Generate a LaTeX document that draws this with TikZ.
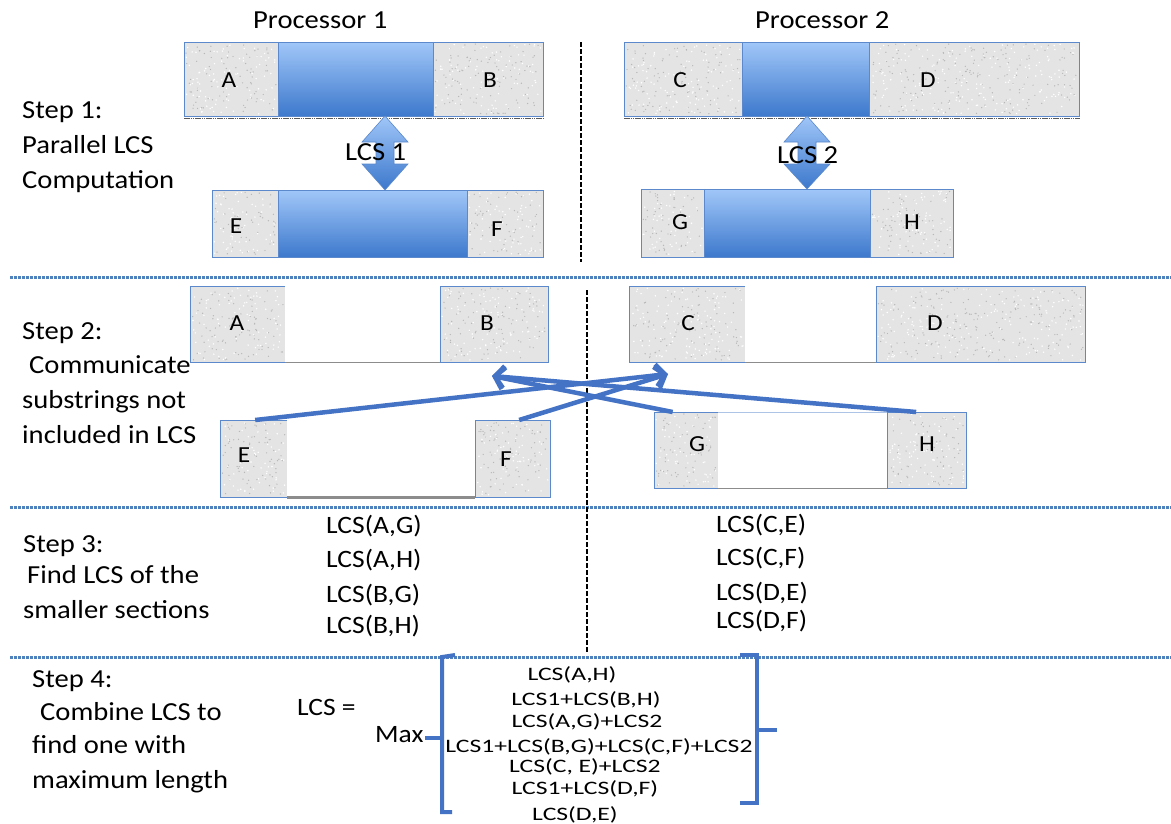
\documentclass[tikz,border=0pt]{standalone}
\usepackage{fontspec}
\setmainfont{Carlito}[FakeStretch=1.1]
\newfontfamily\formfont{Carlito}[FakeStretch=1.35]
\usetikzlibrary{arrows.meta}
\definecolor{boxblue}{RGB}{91,137,204}
\definecolor{arrblue}{RGB}{68,114,196}
\definecolor{sepblue}{RGB}{79,129,189}
\definecolor{segtop}{RGB}{160,198,248}
\definecolor{segbot}{RGB}{60,120,204}
\definecolor{granite}{RGB}{228,228,228}
\newcommand\myspeckle[5]{%
  \foreach \k in {1,...,#5}{%
    \pgfmathsetmacro\sx{#1+2+rnd*(#3-4)}%
    \pgfmathsetmacro\sy{#2+2+rnd*(#4-4)}%
    \pgfmathsetmacro\sc{rnd>0.5 ? 1 : 0}%
    \ifdim\sc pt>0.5pt
      \fill[black!28] (\sx,\sy) circle (0.7pt);
    \else
      \fill[white] (\sx,\sy) circle (0.8pt);
    \fi}}
\begin{document}
\begin{tikzpicture}[x=1pt,y=-1pt,
  greyseg/.style={draw=boxblue,line width=1.3pt,fill=granite,inner sep=0pt,anchor=north west},
  blueseg/.style={draw=boxblue,line width=1.3pt,top color=segtop,bottom color=segbot,inner sep=0pt,anchor=north west},
  whiteseg/.style={fill=white,inner sep=0pt,anchor=north west},
  letter/.style={inner sep=0pt,font=\fontsize{23}{27}\selectfont},
  steptxt/.style={inner sep=0pt,anchor=base west,font=\fontsize{26}{30}\selectfont},
  lcstxt/.style={inner sep=0pt,anchor=base west,font=\fontsize{25}{29}\selectfont},
  formtxt/.style={inner sep=0pt,anchor=base,font=\formfont\fontsize{19}{22}\selectfont},
  sepline/.style={draw=sepblue,line width=3pt,dash pattern=on 2.5pt off 1.5pt},
  vdash/.style={draw=black,line width=2.2pt,dash pattern=on 5pt off 2pt},
  conn/.style={draw=arrblue,line width=4.5pt,-{Straight Barb[length=9pt,width=22pt]}},
  dblarrow/.style={top color=segtop,bottom color=segbot,draw=boxblue,line width=0.6pt},
  brk/.style={draw=arrblue,line width=4pt},
  shadowline/.style={draw=black!65,line width=1.2pt,dash pattern=on 1.5pt off 0.7pt},
  whitebottom/.style={draw=black!45,line width=1.2pt}
]
\useasboundingbox[fill=white] (0,0) rectangle (1171,823);
\pgfmathsetseed{7}

% ---------------- headers
\node[steptxt] (p1) at (253,28) {Processor 1};
\node[steptxt] (p2) at (755,28) {Processor 2};

% ---------------- separators and divider
\draw[sepline] (10,277) -- (1171,277);
\draw[sepline] (10,507) -- (1171,507);
\draw[sepline] (10,657) -- (1171,657);
\draw[vdash] (581,42) -- (581,262);
\draw[vdash] (587,290) -- (587,652);

% ---------------- step 1 boxes
\node[greyseg,minimum width=94pt,minimum height=74pt] (A1) at (184,42) {};
\node[blueseg,minimum width=155pt,minimum height=74pt] (M1) at (278,42) {};
\node[greyseg,minimum width=110pt,minimum height=74pt] (B1) at (433,42) {};
\draw[shadowline] ([yshift=-1.5pt]A1.south west) -- ([yshift=-1.5pt]B1.south east);

\node[greyseg,minimum width=118pt,minimum height=74pt] (C1) at (624,42) {};
\node[blueseg,minimum width=127pt,minimum height=74pt] (M2) at (742,42) {};
\node[greyseg,minimum width=210pt,minimum height=74pt] (D1) at (869,42) {};
\draw[shadowline] ([yshift=-1.5pt]C1.south west) -- ([yshift=-1.5pt]D1.south east);

\node[greyseg,minimum width=66pt,minimum height=67pt] (E1) at (212,190) {};
\node[blueseg,minimum width=189pt,minimum height=67pt] (M3) at (278,190) {};
\node[greyseg,minimum width=76pt,minimum height=67pt] (F1) at (467,190) {};

\node[greyseg,minimum width=63pt,minimum height=68pt] (G1) at (641,189) {};
\node[blueseg,minimum width=166pt,minimum height=68pt] (M4) at (704,189) {};
\node[greyseg,minimum width=83pt,minimum height=68pt] (H1) at (870,189) {};

% ---------------- step 2 boxes
\node[greyseg,minimum width=95pt,minimum height=76pt] (A2) at (190,286) {};
\node[whiteseg,minimum width=155pt,minimum height=76pt] (W1) at (285,286) {};
\node[greyseg,minimum width=108pt,minimum height=76pt] (B2) at (440,286) {};
\draw[whitebottom] (W1.south west) -- (W1.south east);

\node[greyseg,minimum width=116pt,minimum height=76pt] (C2) at (629,286) {};
\node[whiteseg,minimum width=131pt,minimum height=76pt] (W2) at (745,286) {};
\node[greyseg,minimum width=209pt,minimum height=76pt] (D2) at (876,286) {};
\draw[whitebottom] (W2.south west) -- (W2.south east);

\node[greyseg,minimum width=67pt,minimum height=77pt] (E2) at (220,420) {};
\node[whiteseg,minimum width=188pt,minimum height=77pt] (W3) at (287,420) {};
\node[greyseg,minimum width=75pt,minimum height=77pt] (F2) at (475,420) {};
\draw[whitebottom,line width=3pt] (W3.south west) -- (W3.south east);

\node[greyseg,minimum width=64pt,minimum height=76pt] (G2) at (654,412) {};
\node[whiteseg,minimum width=169pt,minimum height=76pt] (W4) at (718,412) {};
\node[greyseg,minimum width=79pt,minimum height=76pt] (H2) at (887,412) {};
\draw[whitebottom] (W4.south west) -- (W4.south east);
\draw[draw=boxblue!50,line width=0.8pt] (W4.north west) -- (W4.north east);

% granite speckle
\myspeckle{184}{42}{94}{74}{170}
\myspeckle{433}{42}{110}{74}{200}
\myspeckle{624}{42}{118}{74}{215}
\myspeckle{869}{42}{210}{74}{380}
\myspeckle{212}{190}{66}{67}{110}
\myspeckle{467}{190}{76}{67}{125}
\myspeckle{641}{189}{63}{68}{105}
\myspeckle{870}{189}{83}{68}{140}
\myspeckle{190}{286}{95}{76}{180}
\myspeckle{440}{286}{108}{76}{200}
\myspeckle{629}{286}{116}{76}{215}
\myspeckle{876}{286}{209}{76}{390}
\myspeckle{220}{420}{67}{77}{130}
\myspeckle{475}{420}{75}{77}{145}
\myspeckle{654}{412}{64}{76}{120}
\myspeckle{887}{412}{79}{76}{150}

\node[letter] (tA1) at (229,80) {A};
\node[letter] (tB1) at (490,80) {B};
\node[letter] (tC1) at (680,80) {C};
\node[letter] (tD1) at (928,80) {D};
\node[letter] (tE1) at (236,226) {E};
\node[letter] (tF1) at (497,229) {F};
\node[letter] (tG1) at (680,222) {G};
\node[letter] (tH1) at (912,222) {H};

% double arrows
\shade[dblarrow] (385,116) -- (408,142) -- (394,142) -- (394,164) -- (408,164) -- (385,190)
  -- (362,164) -- (376,164) -- (376,142) -- (362,142) -- cycle;
\shade[dblarrow] (807,116) -- (830,142) -- (816,142) -- (816,164) -- (830,164) -- (807,189)
  -- (784,164) -- (798,164) -- (798,142) -- (784,142) -- cycle;
\node[steptxt] (l1) at (345,160) {LCS 1};
\node[steptxt] (l2) at (777,163) {LCS 2};

\node[letter] (tA2) at (237,323) {A};
\node[letter] (tB2) at (487,323) {B};
\node[letter] (tC2) at (688,323) {C};
\node[letter] (tD2) at (935,323) {D};
\node[letter] (tE2) at (244,455) {E};
\node[letter] (tF2) at (506,459) {F};
\node[letter] (tG2) at (697,444) {G};
\node[letter] (tH2) at (927,444) {H};

% communication arrows
\coordinate (hCD) at (668,374);
\coordinate (hAB) at (492,376);
\draw[conn] ([xshift=1pt]E2.north) -- (hCD);
\draw[conn] ([xshift=6pt]F2.north) -- (hCD);
\draw[conn] ([xshift=-14pt]G2.north) -- (hAB);
\draw[conn] ([xshift=-11pt]H2.north) -- (hAB);

% ---------------- step labels
\node[steptxt] (s1a) at (22,118) {Step 1:};
\node[steptxt] (s1b) at (22,153) {Parallel LCS};
\node[steptxt] (s1c) at (22,188) {Computation};

\node[steptxt] (s2a) at (22,339) {Step 2:};
\node[steptxt] (s2b) at (29,373) {Communicate};
\node[steptxt] (s2c) at (22,408) {substrings not};
\node[steptxt] (s2d) at (22,443) {included in LCS};

\node[steptxt] (s3a) at (23,552) {Step 3:};
\node[steptxt] (s3b) at (27,583) {Find LCS of the};
\node[steptxt] (s3c) at (23,618) {smaller sections};

\node[steptxt] (s4a) at (32,687) {Step 4:};
\node[steptxt] (s4b) at (40,720) {Combine LCS to};
\node[steptxt] (s4c) at (32,753) {find one with};
\node[steptxt] (s4d) at (32,788) {maximum length};

% ---------------- step 3 texts
\node[lcstxt] (q1) at (326,533) {LCS(A,G)};
\node[lcstxt] (q2) at (326,567) {LCS(A,H)};
\node[lcstxt] (q3) at (326,602) {LCS(B,G)};
\node[lcstxt] (q4) at (326,633) {LCS(B,H)};
\node[lcstxt] (q5) at (716,532) {LCS(C,E)};
\node[lcstxt] (q6) at (716,565) {LCS(C,F)};
\node[lcstxt] (q7) at (716,600) {LCS(D,E)};
\node[lcstxt] (q8) at (716,628) {LCS(D,F)};

% ---------------- step 4 formula
\node[lcstxt] (lhs) at (297,715) {LCS =};
\node[lcstxt] (max) at (375,742) {Max};
\draw[brk] (455,655) -- (442,657) -- (442,812) -- (452,812);
\draw[brk] (442,738) -- (425,738);
\draw[brk] (740,655) -- (757,655) -- (757,803) -- (740,803);
\draw[brk] (757,730) -- (777,730);
\node[formtxt] (f1) at (572,680) {LCS(A,H)};
\node[formtxt] (f2) at (586,705) {LCS1+LCS(B,H)};
\node[formtxt] (f3) at (587,727) {LCS(A,G)+LCS2};
\node[formtxt] (f4) at (599,752) {LCS1+LCS(B,G)+LCS(C,F)+LCS2};
\node[formtxt] (f5) at (585,772) {LCS(C, E)+LCS2};
\node[formtxt] (f6) at (585,794) {LCS1+LCS(D,F)};
\node[formtxt] (f7) at (575,820) {LCS(D,E)};
\end{tikzpicture}
\end{document}
